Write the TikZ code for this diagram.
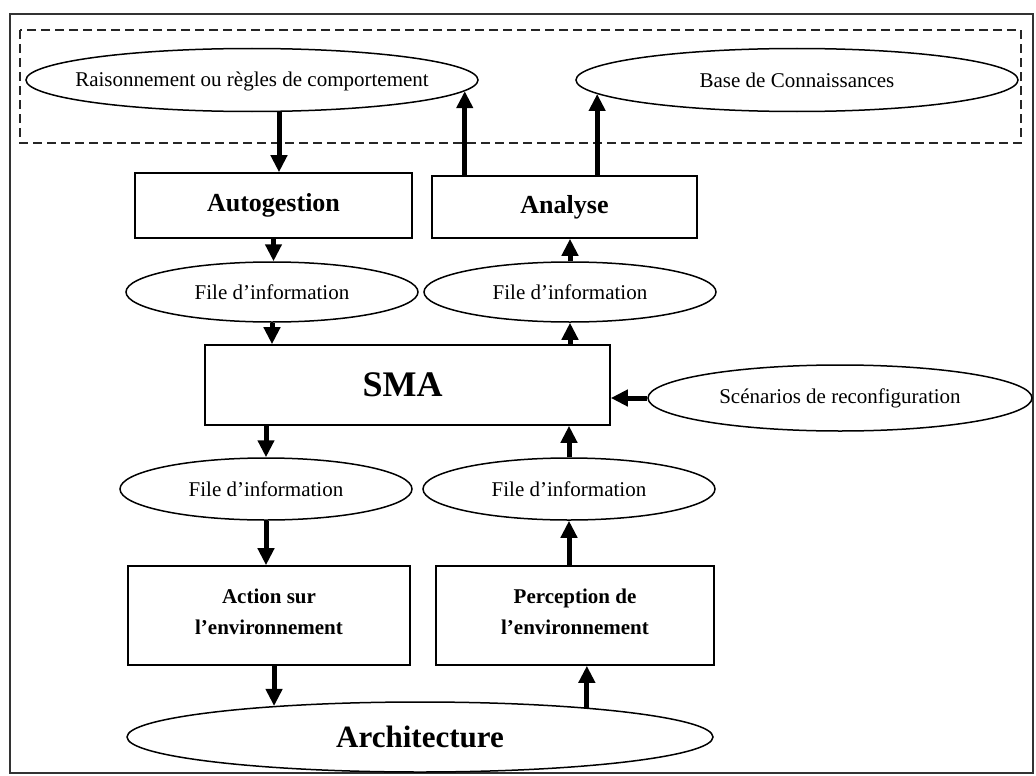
\documentclass[tikz,border=0pt]{standalone}
\usepackage{fontspec}
\setmainfont{Liberation Serif}
\usetikzlibrary{shapes.geometric,arrows.meta}
\begin{document}
\begin{tikzpicture}[x=1pt,y=-1pt,
  oval/.style={ellipse,draw,line width=1.5pt,inner sep=0pt},
  ovaltext/.style={font=\fontsize{21}{25}\selectfont,inner sep=0pt},
  boxnode/.style={rectangle,draw,line width=1.6pt,inner sep=0pt,align=center,
    font=\bfseries\fontsize{21}{31}\selectfont},
  arr/.style={line width=5pt,-{Triangle[length=17pt,width=16pt]}}]

\useasboundingbox (0,0) rectangle (1036,776);

% outer frame and knowledge zone
\draw[line width=1.4pt,black!80] (10,14) rectangle (1033,773);
\draw[line width=1.3pt,dash pattern=on 9pt off 5pt,black!85] (20,30) rectangle (1021,143);

% top: knowledge
\node[oval,minimum width=452pt,minimum height=63pt,
  label={[ovaltext,yshift=-1.5pt]center:Raisonnement ou règles de comportement}] (raison) at (252,80) {};
\node[oval,minimum width=442pt,minimum height=63pt,
  label={[ovaltext]center:Base de Connaissances}] (base) at (797,80) {};

% management and analysis
\node[boxnode,minimum width=277pt,minimum height=65pt,font=\bfseries\fontsize{26}{30}\selectfont]
  (auto) at (273.5,205.5) {Autogestion};
\node[boxnode,minimum width=265pt,minimum height=62pt,font=\bfseries\fontsize{26}{30}\selectfont]
  (analyse) at (564.5,207) {Analyse};

% information queues, upper row
\node[oval,minimum width=292pt,minimum height=60pt,
  label={[ovaltext]center:File d’information}] (fileA) at (272,292) {};
\node[oval,minimum width=292pt,minimum height=60pt,
  label={[ovaltext]center:File d’information}] (fileB) at (570,292) {};

% multi-agent system
\node[boxnode,minimum width=405pt,minimum height=80pt,
  label={[font=\bfseries\fontsize{36}{40}\selectfont,inner sep=0pt,xshift=-5pt]center:SMA}]
  (sma) at (407.5,385) {};
\node[oval,minimum width=384pt,minimum height=66pt,
  label={[ovaltext]center:Scénarios de reconfiguration}] (scen) at (840,398) {};

% information queues, lower row
\node[oval,minimum width=292pt,minimum height=62pt,
  label={[ovaltext]center:File d’information}] (fileC) at (266,489) {};
\node[oval,minimum width=292pt,minimum height=62pt,
  label={[ovaltext]center:File d’information}] (fileD) at (569,489) {};

% environment interaction
\node[boxnode,minimum width=282pt,minimum height=99pt,
  label={[boxnode,draw=none,yshift=4pt]center:Action sur\\l’environnement}]
  (action) at (269,615.5) {};
\node[boxnode,minimum width=278pt,minimum height=99pt,
  label={[boxnode,draw=none,yshift=4pt]center:Perception de\\l’environnement}]
  (percep) at (575,615.5) {};

\node[oval,minimum width=586pt,minimum height=70pt,
  label={[ovaltext,font=\bfseries\fontsize{31}{35}\selectfont]center:Architecture}] (archi) at (420,737) {};

% connectors
\draw[arr] ([xshift=5.5pt]auto.north |- raison.south) -- ([xshift=5.5pt]auto.north);
\draw[arr] (raison.-3.96 |- analyse.north) -- (raison.-3.96);
\draw[arr] (base.184.47 |- analyse.north) -- (base.184.47);

\draw[arr] (auto.south) -- (auto.south |- fileA.north);
\draw[arr] (fileA.south) -- (fileA.south |- sma.north);
\draw[arr] (fileB.north) -- (fileB.north |- analyse.south);
\draw[arr] (sma.north -| fileB.south) -- (fileB.south);

\draw[arr] (scen.west) -- (scen.west -| sma.east);

\draw[arr] (sma.south -| fileC.north) -- (fileC.north);
\draw[arr] (fileC.south) -- (fileC.south |- action.north);
\draw[arr] (fileD.north) -- (fileD.north |- sma.south);
\draw[arr] (percep.north -| fileD.south) -- (fileD.south);

\draw[arr] (archi.168.65 |- action.south) -- (archi.168.65);
\draw[arr] (archi.10.85) -- (archi.10.85 |- percep.south);
\end{tikzpicture}
\end{document}
